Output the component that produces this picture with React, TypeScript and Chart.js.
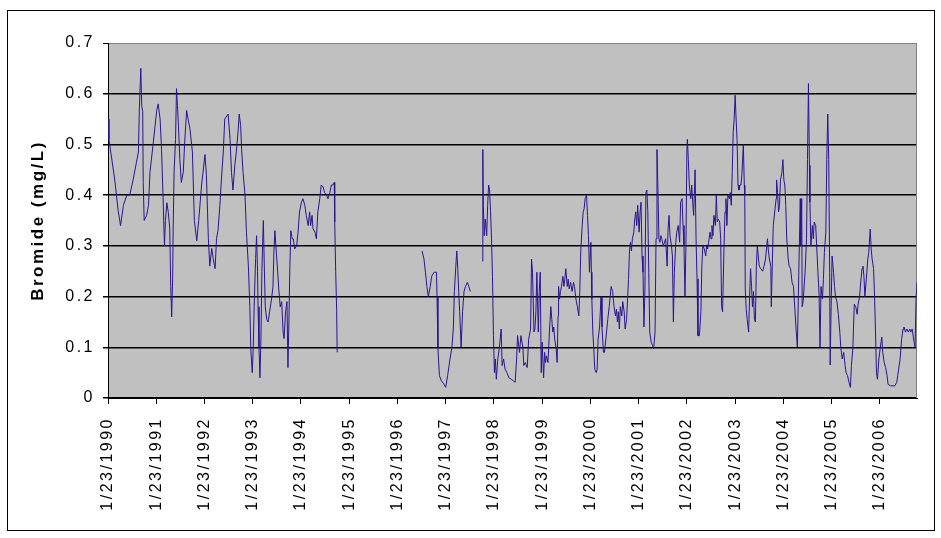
import { useEffect, useRef } from 'react';
import { Chart, registerables } from 'chart.js';

Chart.register(...registerables);

// Sample dates as decimal years (1/23/1990 = 1990.06); null values mark gaps in sampling
const sampleYears: number[] = [
  1990.06, 1990.08, 1990.20, 1990.27, 1990.32, 1990.38, 1990.45, 1990.51, 1990.58, 1990.65,
  1990.69, 1990.71, 1990.74, 1990.76, 1990.78, 1990.79, 1990.81, 1990.86, 1990.90, 1990.93,
  1991.00, 1991.07, 1991.10, 1991.14, 1991.17, 1991.20, 1991.23, 1991.25, 1991.28, 1991.31,
  1991.34, 1991.36, 1991.38, 1991.40, 1991.41, 1991.43, 1991.46, 1991.48, 1991.50, 1991.52,
  1991.55, 1991.58, 1991.62, 1991.65, 1991.69, 1991.72, 1991.76, 1991.81, 1991.85, 1991.90,
  1991.94, 1992.00, 1992.03, 1992.07, 1992.10, 1992.14, 1992.17, 1992.21, 1992.24, 1992.28,
  1992.31, 1992.34, 1992.38, 1992.41, 1992.45, 1992.48, 1992.55, 1992.59, 1992.62, 1992.65,
  1992.69, 1992.72, 1992.76, 1992.78, 1992.81, 1992.83, 1992.86, 1992.90, 1992.93, 1992.97,
  1993.00, 1993.02, 1993.05, 1993.07, 1993.09, 1993.12, 1993.14, 1993.16, 1993.17, 1993.19,
  1993.21, 1993.23, 1993.25, 1993.28, 1993.30, 1993.32, 1993.35, 1993.38, 1993.41, 1993.45,
  1993.48, 1993.50, 1993.52, 1993.54, 1993.57, 1993.60, 1993.63, 1993.66, 1993.69, 1993.71,
  1993.74, 1993.77, 1993.79, 1993.81, 1993.83, 1993.85, 1993.88, 1993.90, 1993.93, 1993.97,
  1994.00, 1994.03, 1994.07, 1994.10, 1994.14, 1994.17, 1994.21, 1994.24, 1994.26, 1994.29,
  1994.31, 1994.35, 1994.38, 1994.41, 1994.45, 1994.48, 1994.52, 1994.55, 1994.59, 1994.62,
  1994.66, 1994.69, 1994.72, 1994.75, 1994.76, 1994.78, 1994.80, 1994.81,
  1995.70,
  1996.57, 1996.61, 1996.64, 1996.67, 1996.70, 1996.74, 1996.77, 1996.82, 1996.87, 1996.88,
  1996.90, 1996.93, 1996.97, 1997.02, 1997.06, 1997.10, 1997.15, 1997.19, 1997.22, 1997.24,
  1997.27, 1997.29, 1997.31, 1997.33, 1997.35, 1997.38, 1997.41, 1997.44, 1997.47, 1997.51,
  1997.54, 1997.57,
  1997.70,
  1997.82, 1997.83, 1997.84, 1997.86, 1997.88, 1997.91, 1997.93, 1997.95, 1997.97, 1997.99,
  1998.01, 1998.03, 1998.05, 1998.07, 1998.09, 1998.11, 1998.14, 1998.17, 1998.21, 1998.23,
  1998.26, 1998.29, 1998.33, 1998.37, 1998.42, 1998.46, 1998.50, 1998.53, 1998.55, 1998.59,
  1998.62, 1998.66, 1998.68, 1998.71, 1998.75, 1998.78, 1998.82, 1998.84, 1998.86, 1998.89,
  1998.91, 1998.93, 1998.95, 1998.98, 1999.00, 1999.02, 1999.04, 1999.06, 1999.09, 1999.11,
  1999.13, 1999.15, 1999.18, 1999.21, 1999.24, 1999.26, 1999.28, 1999.30, 1999.32, 1999.35,
  1999.37, 1999.39, 1999.40, 1999.42, 1999.44, 1999.46, 1999.49, 1999.51, 1999.53, 1999.55,
  1999.58, 1999.60, 1999.62, 1999.65, 1999.68, 1999.71, 1999.73, 1999.76, 1999.79, 1999.82,
  1999.84, 1999.86, 1999.89, 1999.91, 1999.93, 1999.95, 1999.98, 2000.00, 2000.02, 2000.04,
  2000.07, 2000.08, 2000.09, 2000.11, 2000.13, 2000.15, 2000.18, 2000.20, 2000.22, 2000.25,
  2000.28, 2000.30, 2000.33, 2000.35, 2000.38, 2000.42, 2000.45, 2000.49, 2000.52, 2000.55,
  2000.58, 2000.60, 2000.62, 2000.64, 2000.66, 2000.68, 2000.71, 2000.73, 2000.76, 2000.78,
  2000.81, 2000.83, 2000.85, 2000.87, 2000.89, 2000.91, 2000.93, 2000.96, 2000.98, 2001.00,
  2001.02, 2001.04, 2001.07, 2001.09, 2001.11, 2001.13, 2001.15, 2001.17, 2001.19, 2001.21,
  2001.23, 2001.25, 2001.27, 2001.29, 2001.32, 2001.35, 2001.37, 2001.40, 2001.42, 2001.44,
  2001.46, 2001.48, 2001.50, 2001.52, 2001.54, 2001.57, 2001.62, 2001.65, 2001.67, 2001.69,
  2001.71, 2001.74, 2001.76, 2001.78, 2001.80, 2001.83, 2001.85, 2001.88, 2001.91, 2001.93,
  2001.96, 2001.98, 2002.00, 2002.02, 2002.04, 2002.06, 2002.07, 2002.09, 2002.11, 2002.14,
  2002.16, 2002.18, 2002.20, 2002.22, 2002.23, 2002.25, 2002.27, 2002.29, 2002.32, 2002.35,
  2002.37, 2002.39, 2002.42, 2002.45, 2002.47, 2002.49, 2002.51, 2002.54, 2002.56, 2002.58,
  2002.60, 2002.62, 2002.65, 2002.67, 2002.69, 2002.71, 2002.74, 2002.76, 2002.78, 2002.80,
  2002.83, 2002.85, 2002.87, 2002.89, 2002.91, 2002.94, 2002.96, 2002.98, 2003.00, 2003.02,
  2003.04, 2003.06, 2003.08, 2003.10, 2003.12, 2003.14, 2003.16, 2003.18, 2003.20, 2003.23,
  2003.25, 2003.26, 2003.27, 2003.29, 2003.31, 2003.34, 2003.36, 2003.38, 2003.40, 2003.42,
  2003.44, 2003.46, 2003.48, 2003.50, 2003.52, 2003.56, 2003.59, 2003.63, 2003.66, 2003.69,
  2003.73, 2003.75, 2003.77, 2003.80, 2003.81, 2003.83, 2003.85, 2003.88, 2003.91, 2003.92,
  2003.94, 2003.96, 2003.98, 2004.00, 2004.03, 2004.05, 2004.07, 2004.09, 2004.11, 2004.13,
  2004.16, 2004.18, 2004.21, 2004.24, 2004.27, 2004.32, 2004.35, 2004.38, 2004.41, 2004.42,
  2004.44, 2004.45, 2004.47, 2004.51, 2004.54, 2004.56, 2004.58, 2004.60, 2004.61, 2004.63,
  2004.66, 2004.68, 2004.70, 2004.73, 2004.75, 2004.77, 2004.80, 2004.82, 2004.84, 2004.87,
  2004.89, 2004.91, 2004.94, 2004.96, 2004.98, 2005.00, 2005.02, 2005.03, 2005.05, 2005.07,
  2005.10, 2005.12, 2005.14, 2005.17, 2005.20, 2005.23, 2005.25, 2005.28, 2005.31, 2005.34,
  2005.36, 2005.39, 2005.42, 2005.45, 2005.47, 2005.50, 2005.53, 2005.56, 2005.59, 2005.61,
  2005.64, 2005.67, 2005.69, 2005.71, 2005.73, 2005.75, 2005.78, 2005.81, 2005.83, 2005.86,
  2005.88, 2005.90, 2005.93, 2005.95, 2005.97, 2005.99, 2006.01, 2006.04, 2006.07, 2006.10,
  2006.12, 2006.15, 2006.18, 2006.21, 2006.23, 2006.28, 2006.33, 2006.37, 2006.41, 2006.43,
  2006.45, 2006.48, 2006.51, 2006.54, 2006.56, 2006.59, 2006.62, 2006.65, 2006.68, 2006.70,
  2006.73, 2006.76, 2006.79, 2006.81, 2006.83,
];

// Bromide concentration, mg/L
const bromide: (number | null)[] = [
  0.55, 0.51, 0.43, 0.37, 0.34, 0.38, 0.40, 0.40, 0.43, 0.465,
  0.485, 0.57, 0.65, 0.575, 0.565, 0.425, 0.35, 0.36, 0.38, 0.445,
  0.505, 0.567, 0.58, 0.55, 0.49, 0.40, 0.30, 0.35, 0.385, 0.366,
  0.335, 0.22, 0.16, 0.235, 0.33, 0.445, 0.51, 0.61, 0.577, 0.537,
  0.47, 0.425, 0.445, 0.505, 0.567, 0.55, 0.53, 0.485, 0.35, 0.31,
  0.35, 0.42, 0.445, 0.48, 0.44, 0.315, 0.26, 0.295, 0.275, 0.255,
  0.315, 0.33, 0.38, 0.43, 0.485, 0.55, 0.56, 0.51, 0.445, 0.41,
  0.46, 0.485, 0.53, 0.56, 0.537, 0.49, 0.445, 0.40, 0.327, 0.26,
  0.18, 0.097, 0.05, 0.097, 0.18, 0.275, 0.32, 0.25, 0.18, 0.10,
  0.04, 0.116, 0.25, 0.35, 0.26, 0.18, 0.155, 0.15, 0.17, 0.195,
  0.22, 0.29, 0.33, 0.30, 0.26, 0.215, 0.18, 0.19, 0.13, 0.117,
  0.17, 0.19, 0.06, 0.15, 0.26, 0.33, 0.314, 0.314, 0.294, 0.30,
  0.327, 0.367, 0.386, 0.393, 0.38, 0.36, 0.34, 0.367, 0.34, 0.36,
  0.334, 0.327, 0.314, 0.367, 0.393, 0.42, 0.416, 0.405, 0.40, 0.393,
  0.405, 0.42, 0.42, 0.425, 0.347, 0.25, 0.172, 0.09,
  null,
  0.29, 0.274, 0.248, 0.22, 0.20, 0.22, 0.24, 0.248, 0.248, 0.20,
  0.097, 0.044, 0.034, 0.028, 0.021, 0.044, 0.077, 0.10, 0.14, 0.21,
  0.26, 0.29, 0.256, 0.21, 0.17, 0.10, 0.17, 0.21, 0.22, 0.228,
  0.22, 0.21,
  null,
  0.27, 0.49, 0.38, 0.32, 0.353, 0.32, 0.38, 0.42, 0.41, 0.367,
  0.314, 0.24, 0.123, 0.05, 0.077, 0.037, 0.077, 0.097, 0.136, 0.064,
  0.077, 0.057, 0.05, 0.04, 0.037, 0.034, 0.031, 0.077, 0.123, 0.09,
  0.123, 0.10, 0.064, 0.07, 0.06, 0.116, 0.136, 0.274, 0.248, 0.13,
  0.136, 0.17, 0.248, 0.13, 0.21, 0.248, 0.05, 0.11, 0.04, 0.09,
  0.07, 0.083, 0.07, 0.13, 0.18, 0.155, 0.13, 0.14, 0.116, 0.097,
  0.07, 0.162, 0.22, 0.195, 0.21, 0.22, 0.24, 0.22, 0.234, 0.255,
  0.22, 0.234, 0.215, 0.228, 0.21, 0.228, 0.22, 0.195, 0.18, 0.162,
  0.21, 0.29, 0.34, 0.367, 0.373, 0.393, 0.40, 0.36, 0.32, 0.248,
  0.307, 0.248, 0.195, 0.13, 0.097, 0.057, 0.05, 0.057, 0.116, 0.14,
  0.20, 0.14, 0.09, 0.09, 0.116, 0.155, 0.18, 0.22, 0.21, 0.18,
  0.162, 0.175, 0.15, 0.17, 0.136, 0.18, 0.162, 0.19, 0.17, 0.136,
  0.155, 0.195, 0.234, 0.29, 0.307, 0.29, 0.314, 0.327, 0.353, 0.367,
  0.34, 0.38, 0.327, 0.367, 0.386, 0.28, 0.248, 0.14, 0.215, 0.405,
  0.41, 0.367, 0.248, 0.13, 0.11, 0.103, 0.097, 0.13, 0.314, 0.49,
  0.41, 0.314, 0.307, 0.32, 0.314, 0.30, 0.314, 0.26, 0.333, 0.36,
  0.32, 0.30, 0.28, 0.15, 0.248, 0.307, 0.327, 0.34, 0.307, 0.386,
  0.393, 0.34, 0.30, 0.20, 0.30, 0.49, 0.51, 0.47, 0.42, 0.393,
  0.42, 0.386, 0.36, 0.42, 0.45, 0.314, 0.235, 0.123, 0.123, 0.17,
  0.26, 0.30, 0.294, 0.28, 0.30, 0.294, 0.307, 0.327, 0.314, 0.34,
  0.32, 0.36, 0.34, 0.40, 0.347, 0.353, 0.347, 0.314, 0.18, 0.17,
  0.30, 0.367, 0.393, 0.34, 0.40, 0.393, 0.405, 0.38, 0.445, 0.525,
  0.55, 0.597, 0.55, 0.51, 0.42, 0.41, 0.42, 0.42, 0.44, 0.50,
  0.42, 0.40, 0.215, 0.175, 0.155, 0.13, 0.20, 0.255, 0.22, 0.18,
  0.21, 0.155, 0.15, 0.26, 0.30, 0.26, 0.255, 0.25, 0.26, 0.274,
  0.314, 0.29, 0.274, 0.26, 0.18, 0.26, 0.34, 0.367, 0.393, 0.43,
  0.405, 0.367, 0.38, 0.43, 0.445, 0.47, 0.43, 0.42, 0.38, 0.314,
  0.274, 0.26, 0.255, 0.228, 0.22, 0.14, 0.10, 0.248, 0.393, 0.30,
  0.393, 0.18, 0.19, 0.248, 0.314, 0.47, 0.62, 0.459, 0.386, 0.30,
  0.34, 0.314, 0.347, 0.34, 0.30, 0.26, 0.205, 0.10, 0.22, 0.195,
  0.234, 0.287, 0.327, 0.47, 0.56, 0.47, 0.248, 0.065, 0.18, 0.28,
  0.248, 0.22, 0.20, 0.19, 0.165, 0.13, 0.10, 0.077, 0.09, 0.064,
  0.05, 0.044, 0.031, 0.021, 0.064, 0.097, 0.185, 0.18, 0.165, 0.185,
  0.20, 0.235, 0.255, 0.26, 0.24, 0.20, 0.235, 0.274, 0.287, 0.333,
  0.294, 0.274, 0.255, 0.20, 0.13, 0.05, 0.037, 0.077, 0.10, 0.12,
  0.09, 0.07, 0.06, 0.044, 0.027, 0.024, 0.024, 0.024, 0.031, 0.044,
  0.057, 0.077, 0.115, 0.136, 0.14, 0.13, 0.136, 0.13, 0.136, 0.13,
  0.136, 0.116, 0.10, 0.195, 0.228,
];

const tickYears: number[] = [
  1990, 1991, 1992, 1993, 1994, 1995, 1996, 1997, 1998,
  1999, 2000, 2001, 2002, 2003, 2004, 2005, 2006,
];
const JAN23 = 0.06; // fraction of a year at January 23
const yAxisTitle = 'Bromide (mg/L)';
const Y_MIN = 0;
const Y_MAX = 0.7;
const Y_STEP = 0.1;

const FONT_FAMILY = "'Liberation Sans', Arial, sans-serif";

const excelLook = {
  id: 'excelLook',
  beforeUpdate(chart: any) {
    chart.ctx.letterSpacing = '2.5px';
  },
  beforeDraw(chart: any) {
    const { ctx, chartArea } = chart;
    ctx.letterSpacing = '2.5px';
    ctx.save();
    ctx.fillStyle = '#c0c0c0';
    ctx.fillRect(chartArea.left, chartArea.top, chartArea.right - chartArea.left, chartArea.bottom - chartArea.top);
    ctx.restore();
  },
  beforeDatasetsDraw(chart: any) {
    const { ctx, chartArea } = chart;
    ctx.save();
    ctx.strokeStyle = '#808080';
    ctx.lineWidth = 1;
    ctx.beginPath();
    ctx.moveTo(chartArea.right - 0.5, chartArea.top);
    ctx.lineTo(chartArea.right - 0.5, chartArea.bottom);
    ctx.stroke();
    ctx.restore();
  },
};

export default function App() {
  const canvasRef = useRef<HTMLCanvasElement | null>(null);

  useEffect(() => {
    if (!canvasRef.current) return;
    const points = sampleYears.map((x, i) => ({ x, y: bromide[i] }));
    const chart = new Chart(canvasRef.current, {
      type: 'line',
      data: {
        datasets: [
          {
            label: 'Bromide',
            data: points as any,
            borderColor: '#2c1490',
            borderWidth: 1,
            pointRadius: 0,
            tension: 0,
            spanGaps: false,
          },
        ],
      },
      options: {
        animation: false,
        responsive: false,
        devicePixelRatio: 1,
        parsing: false as any,
        layout: { padding: { left: 24, top: 43, right: 24, bottom: 0 } },
        plugins: {
          legend: { display: false },
          tooltip: { enabled: false },
        },
        scales: {
          x: {
            type: 'linear',
            min: sampleYears[0],
            max: sampleYears[sampleYears.length - 1],
            afterBuildTicks: (scale: any) => {
              scale.ticks = tickYears.map((y) => ({ value: y + JAN23 }));
            },
            afterFit: (scale: any) => {
              scale.height = 140;
            },
            ticks: {
              autoSkip: false,
              minRotation: 90,
              maxRotation: 90,
              padding: 13,
              color: '#000',
              font: { family: FONT_FAMILY, size: 16 },
              callback: (value: any) => `1/23/${Math.round(Number(value) - JAN23)}`,
            },
            grid: {
              drawOnChartArea: false,
              drawTicks: true,
              tickLength: 6,
              color: '#000',
              lineWidth: 1,
            },
            border: { display: true, color: '#000', width: 1 },
          },
          y: {
            min: Y_MIN,
            max: Y_MAX,
            afterFit: (scale: any) => {
              scale.width = 84;
            },
            ticks: {
              stepSize: Y_STEP,
              padding: 8,
              color: '#000',
              font: { family: FONT_FAMILY, size: 16 },
              callback: (value: any) => String(Math.round(Number(value) * 10) / 10),
            },
            grid: {
              color: (ctx: any) => (ctx.tick && ctx.tick.value > Y_MAX - 0.01 ? '#808080' : '#000'),
              lineWidth: (ctx: any) => (ctx.tick && ctx.tick.value > Y_MAX - 0.01 ? 1 : 1.5),
              tickColor: '#000',
              tickLength: 5,
              drawTicks: true,
            },
            border: { display: true, color: '#000', width: 1 },
            title: {
              display: true,
              text: yAxisTitle,
              color: '#000',
              padding: { top: 4, bottom: 0 },
              font: { family: FONT_FAMILY, size: 17, weight: 'bold' },
            },
          },
        },
      },
      plugins: [excelLook],
    });
    return () => chart.destroy();
  }, []);

  return (
    <div style={{ position: 'absolute', left: 0, top: 0, width: 941, height: 538, background: '#fff' }}>
      <canvas
        ref={canvasRef}
        width={941}
        height={538}
        style={{ display: 'block', width: 941, height: 538 }}
      />
      <div
        style={{
          position: 'absolute',
          left: 7,
          top: 10,
          width: 928,
          height: 521,
          boxSizing: 'border-box',
          border: '1px solid #000',
          pointerEvents: 'none',
        }}
      />
    </div>
  );
}
